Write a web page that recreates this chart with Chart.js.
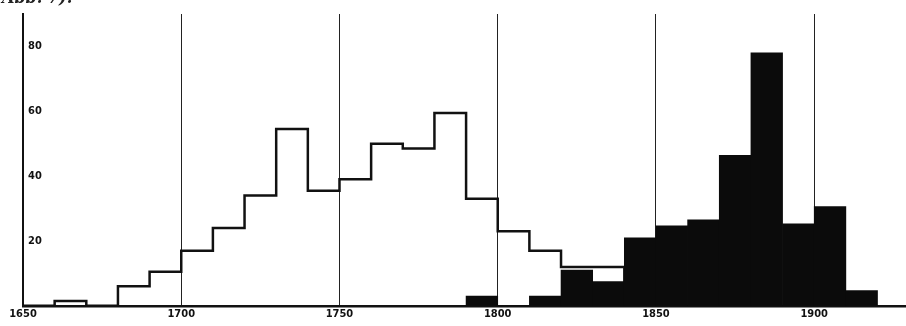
<!DOCTYPE html>
<html>
<head>
<meta charset="utf-8">
<script src="https://cdn.jsdelivr.net/npm/chart.js@4"></script>
<style>
  body { margin: 0; background: #fff; }
  #wrap { position: relative; width: 906px; height: 326px; overflow: hidden; background: #fff; }
  #cap { position: absolute; left: 2px; top: -12px; font: italic bold 16px "DejaVu Serif", serif; color: #222; }
</style>
</head>
<body>
<div id="wrap">
  <div id="cap">Abb. 7).</div>
  <canvas id="c" width="906" height="326"></canvas>
</div>
<script>
// outline histogram: left edge of each decade and its count
const outlineYears = [1650, 1660, 1670, 1680, 1690, 1700, 1710, 1720, 1730, 1740, 1750, 1760, 1770, 1780, 1790, 1800, 1810, 1820, 1830, 1840];
const outlineCounts = [0, 1.5, 0, 6, 10.5, 17, 24, 34, 54.5, 35.5, 39, 50, 48.5, 59.5, 33, 23, 17, 12, 12, 0];

// solid histogram: centre of each decade and its count
const solidYears = [1795, 1805, 1815, 1825, 1835, 1845, 1855, 1865, 1875, 1885, 1895, 1905, 1915];
const solidCounts = [3, 0, 3, 11, 7.5, 21, 24.7, 26.5, 46.4, 78, 25.3, 30.6, 4.7];

const xTicks = [1650, 1700, 1750, 1800, 1850, 1900];
const yTicks = [20, 40, 60, 80];

const tickFont = { family: '"Liberation Sans Narrow", "DejaVu Sans Condensed", sans-serif', size: 11, weight: 'bold' };

new Chart(document.getElementById('c').getContext('2d'), {
  type: 'bar',
  data: {
    datasets: [
      {
        type: 'line',
        data: outlineYears.map((y, i) => ({ x: y, y: outlineCounts[i] })),
        stepped: 'before',
        borderColor: '#111',
        borderWidth: 2.5,
        pointRadius: 0,
        fill: false,
        order: 2
      },
      {
        type: 'bar',
        data: solidYears.map((y, i) => ({ x: y, y: solidCounts[i] })),
        backgroundColor: '#0b0b0b',
        borderWidth: 0,
        barPercentage: 1,
        categoryPercentage: 1,
        order: 1
      }
    ]
  },
  options: {
    responsive: false,
    animation: false,
    layout: { padding: { left: 13, right: 0, top: 14, bottom: 3 } },
    plugins: { legend: { display: false }, tooltip: { enabled: false } },
    scales: {
      x: {
        type: 'linear',
        offset: false,
        min: 1650,
        max: 1929,
        border: { display: true, color: '#111', width: 2.5 },
        grid: {
          offset: false,
          drawTicks: false,
          color: ctx => (ctx.tick && xTicks.includes(ctx.tick.value) && ctx.tick.value !== 1650) ? '#222' : 'rgba(0,0,0,0)',
          lineWidth: 1
        },
        ticks: {
          stepSize: 50,
          includeBounds: false,
          padding: 2,
          color: '#111',
          font: tickFont,
          maxRotation: 0,
          callback: v => xTicks.includes(v) ? String(v) : ''
        }
      },
      y: {
        min: 0,
        max: 90,
        border: { display: true, color: '#111', width: 2 },
        grid: { display: false, drawTicks: false },
        ticks: {
          stepSize: 10,
          includeBounds: false,
          mirror: true,
          padding: 5,
          color: '#111',
          font: tickFont,
          callback: v => yTicks.includes(v) ? String(v) : ''
        }
      }
    }
  }
});
</script>
</body>
</html>
